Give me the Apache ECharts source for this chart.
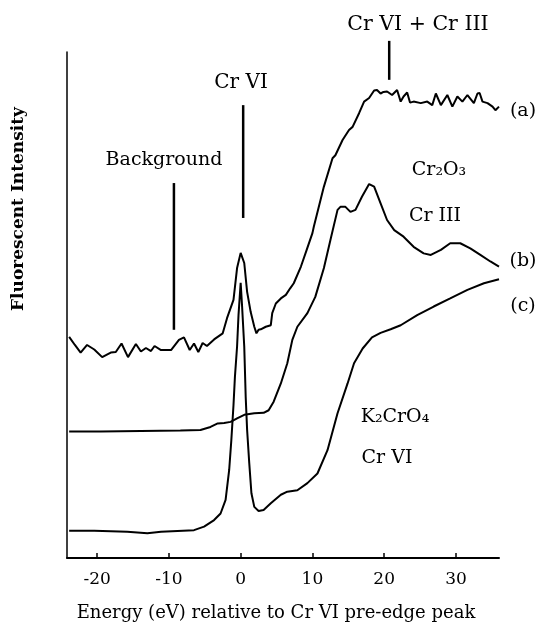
<!DOCTYPE html>
<html><head><meta charset="utf-8">
<script src="https://cdn.jsdelivr.net/npm/echarts@6/dist/echarts.min.js"></script>
<style>html,body{margin:0;padding:0;background:#fff}#c{width:541px;height:642px}</style>
</head><body><div id="c"></div>
<script>
// Energy (eV) and fluorescent intensity (arbitrary units) for each curve
const energyA = [-23.9,-23.1,-22.3,-21.4,-20.4,-19.3,-18.1,-17.4,-16.6,-15.7,-14.6,-13.9,-13.2,-12.5,-12.0,-11.1,-9.7,-8.6,-7.9,-7.1,-6.5,-5.9,-5.3,-4.7,-3.7,-2.5,-1.9,-1.0,-0.5,0.0,0.5,0.9,1.4,1.9,2.2,2.5,2.8,3.5,4.2,4.4,4.9,5.6,6.3,6.9,7.4,8.4,9.2,10.0,10.2,11.6,12.8,13.2,14.2,15.1,15.6,16.5,17.2,17.9,18.6,19.0,19.5,19.9,20.4,21.1,21.8,22.3,22.7,23.2,23.6,24.1,25.1,26.0,26.7,27.2,27.9,28.8,29.5,30.2,30.9,31.6,32.5,33.0,33.3,33.7,34.4,35.1,35.5,36.0];
const intensityA = [43.7,42.1,40.6,42.1,41.2,39.7,40.6,40.7,42.4,39.7,42.3,40.8,41.5,40.9,41.9,41.1,41.1,43.1,43.6,41.1,42.4,40.7,42.5,41.9,43.2,44.4,47.4,51.0,57.3,60.3,58.3,52.6,48.6,45.7,44.4,45.1,45.2,45.7,46.0,48.4,50.3,51.3,52.0,53.3,54.3,57.6,60.9,64.2,65.5,73.4,79.0,79.6,82.6,84.6,85.2,87.9,90.2,90.9,92.4,92.5,91.8,92.1,92.2,91.5,92.5,90.2,91.2,92.0,90.0,90.2,89.9,90.2,89.5,91.8,89.5,91.5,89.2,91.2,90.2,91.5,89.9,91.8,91.9,90.2,89.9,89.2,88.5,89.2];

const energyB = [-23.9,-19.5,-13.9,-8.4,-5.6,-4.2,-3.2,-2.3,-1.4,-0.5,0.5,1.9,3.2,3.9,4.6,5.6,6.5,7.2,7.9,9.3,10.4,11.6,12.5,13.5,13.9,14.6,15.3,16.0,16.9,17.9,18.6,19.5,20.4,21.4,22.7,24.1,25.5,26.5,27.9,29.2,30.6,32.0,33.4,34.8,36.0];
const intensityB = [25.0,25.0,25.1,25.2,25.3,25.9,26.6,26.7,26.9,27.6,28.3,28.6,28.7,29.2,30.9,34.5,38.5,43.1,45.7,48.4,51.6,57.3,62.8,68.8,69.4,69.4,68.4,68.8,71.4,73.9,73.4,70.1,66.8,64.8,63.5,61.5,60.2,59.9,60.9,62.2,62.2,61.2,59.9,58.6,57.6];

const energyC = [-23.9,-20.4,-15.8,-13.0,-11.1,-6.5,-5.1,-3.7,-2.8,-2.1,-1.6,-1.3,-1.0,-0.8,-0.5,-0.3,0.0,0.2,0.5,0.7,0.9,1.2,1.5,1.9,2.5,3.2,4.2,5.6,6.5,7.9,9.3,10.7,12.1,13.5,14.9,15.8,17.0,18.3,19.5,20.9,22.3,24.6,26.9,29.2,31.6,33.9,36.0];
const intensityC = [5.4,5.4,5.2,4.9,5.2,5.5,6.2,7.5,8.8,11.5,17.4,23.3,30.2,35.8,41.8,48.0,54.4,49.7,41.8,31.9,25.3,18.7,12.8,10.1,9.3,9.5,10.8,12.5,13.1,13.4,14.8,16.7,21.3,28.6,34.5,38.5,41.4,43.6,44.5,45.2,46.0,48.0,49.7,51.3,53.0,54.3,55.1];

// Annotation marker lines
const markerEnergy = [-9.3, 0.35, 20.7];
const markerTop = [74.1, 89.5, 102.2];
const markerBottom = [45.1, 67.2, 94.5];

const tickValues = [-20, -10, 0, 10, 20, 30];
const curveLabels = ['(a)', '(b)', '(c)'];
const annotationTexts = ['Cr VI + Cr III', 'Cr VI', 'Background', 'Cr\u2082O\u2083', 'Cr III', 'K\u2082CrO\u2084', 'Cr VI'];
const xTitle = 'Energy (eV) relative to Cr VI pre-edge peak';
const yTitle = 'Fluorescent Intensity';

const FONT = 'DejaVu Serif';
const zip = (xs, ys) => xs.map((x, i) => [x, ys[i]]);

const curveStyle = { color: '#000', width: 2 };
const series = [
  { type: 'line', data: zip(energyA, intensityA), symbol: 'none', lineStyle: curveStyle, animation: false, silent: true },
  { type: 'line', data: zip(energyB, intensityB), symbol: 'none', lineStyle: curveStyle, animation: false, silent: true },
  { type: 'line', data: zip(energyC, intensityC), symbol: 'none', lineStyle: curveStyle, animation: false, silent: true }
];
markerEnergy.forEach((e, i) => {
  series.push({ type: 'line', data: [[e, markerBottom[i]], [e, markerTop[i]]], symbol: 'none', clip: false,
    lineStyle: { color: '#000', width: 2.5 }, animation: false, silent: true });
});

function txt(text, x, y, size, extra) {
  return Object.assign({ type: 'text', x: x, y: y, silent: true,
    style: Object.assign({ text: text, fill: '#000', fontFamily: FONT, fontSize: size,
      align: 'center', verticalAlign: 'middle', textAlign: 'center', textVerticalAlign: 'middle' }, (extra && extra.style) || {}) },
    (extra && extra.el) || {});
}

const labelPos = [[523, 111], [523, 261], [523, 306]];
const annPos = [[418, 25], [241, 83], [164, 160], [439, 170], [435, 216], [395, 417], [387, 458]];
const annSize = [20.5, 20, 19, 19, 19, 19, 19];
const graphics = [];
curveLabels.forEach((t, i) => graphics.push(txt(t, labelPos[i][0], labelPos[i][1], 19)));
annotationTexts.forEach((t, i) => graphics.push(txt(t, annPos[i][0], annPos[i][1], annSize[i])));
graphics.push(txt(xTitle, 276, 613, 18));
graphics.push(txt(yTitle, 19, 209, 17, { el: { rotation: Math.PI / 2 }, style: { fontWeight: 'bold' } }));

const chart = echarts.init(document.getElementById('c'), null, { renderer: 'canvas' });
chart.setOption({
  animation: false,
  backgroundColor: '#fff',
  grid: { left: 67, right: 42, top: 52, bottom: 84, containLabel: false },
  xAxis: {
    type: 'value', min: -24.2, max: 36,
    axisLine: { onZero: false, lineStyle: { color: '#000', width: 2 } },
    axisTick: { show: true, inside: true, length: 5, customValues: tickValues, lineStyle: { color: '#000', width: 1.5 } },
    axisLabel: { customValues: tickValues, color: '#000', fontFamily: FONT, fontSize: 17, margin: 13 },
    splitLine: { show: false }
  },
  yAxis: {
    type: 'value', min: 0, max: 100,
    axisLine: { show: true, onZero: false, lineStyle: { color: '#000', width: 1.5 } },
    axisTick: { show: false }, axisLabel: { show: false }, splitLine: { show: false }
  },
  series: series,
  graphic: graphics
});
</script>
</body></html>
